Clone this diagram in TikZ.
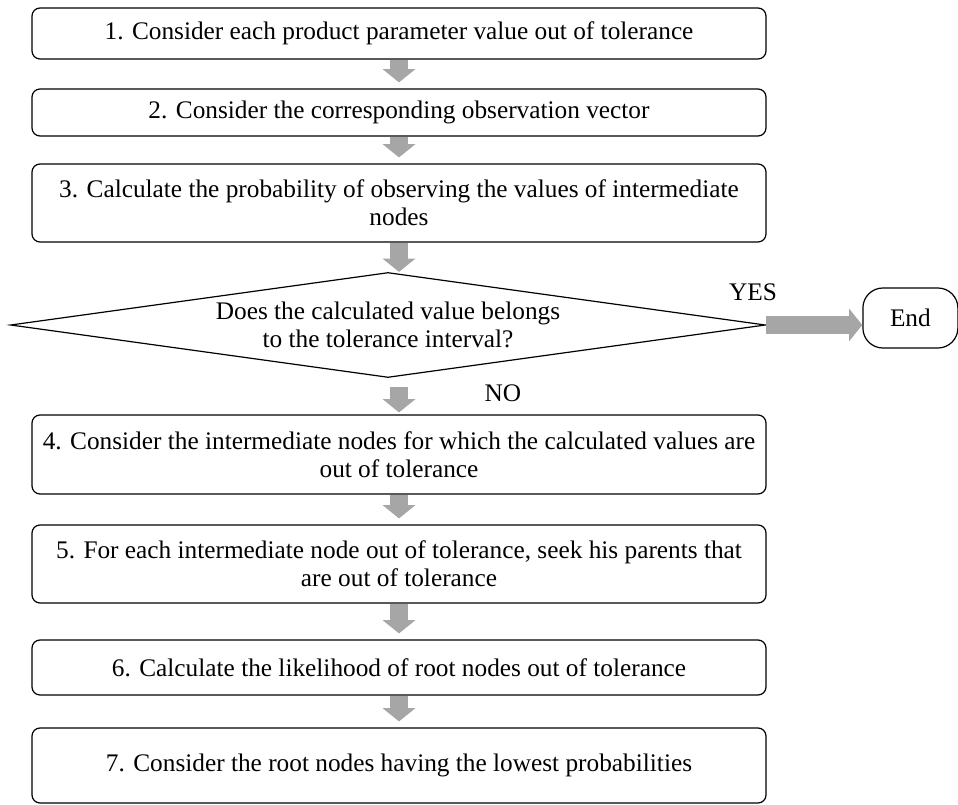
\documentclass[tikz,border=0pt]{standalone}
\usepackage{fontspec}
\setmainfont{Liberation Serif}
\usetikzlibrary{shapes.geometric,arrows.meta}
\tikzset{
	stepbox/.style={draw, line width=0.3mm, rounded corners=0.2cm, minimum width=18.35cm, inner sep=0pt, align=center, font=\fontsize{18}{20}\selectfont},
	decision/.style={draw, diamond, aspect=7.2, line width=0.3mm, minimum width=18.875cm, minimum height=2.625cm, inner sep=0pt, align=center, font=\fontsize{18}{20}\selectfont},
	endbox/.style={draw, line width=0.3mm, rounded corners=0.5cm, minimum width=2.375cm, minimum height=1.5cm, font=\fontsize{18}{20}\selectfont},
	flow/.style={line width=0.45cm, color=black!35, -{Triangle[width=0.8cm, length=0.33cm]}},
	answer/.style={font=\fontsize{18}{20}\selectfont}
}
\begin{document}
\begin{tikzpicture}
		%%%%% START %%%%%
		
		\useasboundingbox (0, 0) rectangle (23.95, -20.125);
		
		\node[stepbox, minimum height=1.275cm] (s1) at (9.975, -0.8375) {1. Consider each product parameter value out of tolerance};
		\node[stepbox, minimum height=1.175cm] (s2) at (9.975, -2.8125) {2. Consider the corresponding observation vector};
		\node[stepbox, minimum height=1.95cm] (s3) at (9.975, -5.075) {3. Calculate the probability of observing the values of intermediate\\nodes};
		
		\node[decision] (d) at (9.7, -8.125) {Does the calculated value belongs\\to the tolerance interval?};
		\node[endbox] (e) at (22.76, -7.95) {End};
		
		\node[stepbox, minimum height=1.975cm] (s4) at (9.975, -11.3625) {4. Consider the intermediate nodes for which the calculated values are\\out of tolerance};
		\node[stepbox, minimum height=1.95cm] (s5) at (9.975, -14.1) {5. For each intermediate node out of tolerance, seek his parents that\\are out of tolerance};
		\node[stepbox, minimum height=1.375cm] (s6) at (9.975, -16.6875) {6. Calculate the likelihood of root nodes out of tolerance};
		\node[stepbox, minimum height=1.875cm] (s7) at (9.975, -19.1375) {7. Consider the root nodes having the lowest probabilities};
		
		\node[answer] (yes) at (18.825, -7.3) {YES};
		\node[answer] (no) at (12.575, -9.825) {NO};
		
		\draw[flow, shorten >=0.15cm] (s1.south) -- (s2.north);
		\draw[flow, shorten >=0.15cm] (s2.south) -- (s3.north);
		\draw[flow] (s3.south) -- (s3.south |- d.north);
		\draw[flow, shorten <=0.22cm, shorten >=0.05cm] (s4.north |- d.south) -- (s4.north);
		\draw[flow] (d.east) -- (e.west |- d.east);
		\draw[flow, shorten >=0.15cm] (s4.south) -- (s5.north);
		\draw[flow, shorten >=0.15cm] (s5.south) -- (s6.north);
		\draw[flow, shorten >=0.15cm] (s6.south) -- (s7.north);
		
		%%%%% END %%%%%
	\end{tikzpicture}
\end{document}
